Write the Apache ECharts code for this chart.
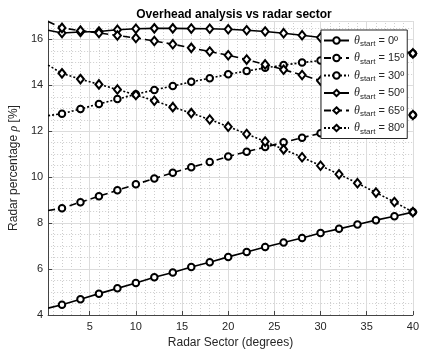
<!DOCTYPE html>
<html>
<head>
<meta charset="utf-8">
<script src="https://cdn.jsdelivr.net/npm/echarts@6/dist/echarts.min.js"></script>
<style>html,body{margin:0;padding:0;background:#fff}#c{width:422px;height:356px}</style>
</head>
<body>
<div id="c"></div>
<script>
// Sector values (degrees) where markers are drawn
const sectors = [2,4,6,8,10,12,14,16,18,20,22,24,26,28,30,32,34,36,38,40];
const startSector = 0.5;
const seriesNames = ['0º','15º','30º','50º','65º','80º'];
// value at left edge (sector 0.5), then values at each marker sector
const start0 = 4.30;
const vals0  = [4.45,4.69,4.93,5.16,5.39,5.64,5.85,6.09,6.30,6.53,6.74,6.96,7.16,7.35,7.57,7.75,7.94,8.13,8.30,8.48];
const start15 = 8.55;
const vals15 = [8.65,8.91,9.17,9.43,9.69,9.94,10.19,10.43,10.66,10.90,11.11,11.31,11.52,11.72,11.91,12.09,12.26,12.42,12.57,12.71];
const start30 = 12.68;
const vals30 = [12.76,12.97,13.19,13.40,13.61,13.80,13.97,14.15,14.31,14.48,14.62,14.76,14.88,14.99,15.08,15.16,15.23,15.29,15.34,15.39];
const start50 = 16.40;
const vals50 = [16.28,16.32,16.34,16.42,16.46,16.48,16.48,16.47,16.46,16.44,16.40,16.34,16.27,16.18,16.08,15.97,15.85,15.71,15.56,15.39];
const start65 = 16.78;
const vals65 = [16.50,16.38,16.28,16.17,16.06,15.93,15.79,15.63,15.47,15.31,15.12,14.91,14.68,14.45,14.20,13.93,13.65,13.36,13.04,12.71];
const start80 = 14.88;
const vals80 = [14.52,14.27,14.04,13.82,13.58,13.33,13.05,12.79,12.51,12.20,11.88,11.55,11.21,10.87,10.50,10.13,9.74,9.33,8.92,8.48];
const xTicks = [5,10,15,20,25,30,35,40];
const yTicks = [4,6,8,10,12,14,16];
const xMinor = [1,2,3,4,6,7,8,9,11,12,13,14,16,17,18,19,21,22,23,24,26,27,28,29,31,32,33,34,36,37,38,39];
const yMinor = [4.5,5,5.5,6.5,7,7.5,8.5,9,9.5,10.5,11,11.5,12.5,13,13.5,14.5,15,15.5,16.5];

const FONT = 'Liberation Sans';
const TXT = '#262626';

function buildData(s, vals){
  const d = [{value:[startSector, s], symbol:'none'}];
  sectors.forEach((x,i)=>d.push([x, vals[i]]));
  return d;
}
const starts = [start0,start15,start30,start50,start65,start80];
const allVals = [vals0,vals15,vals30,vals50,vals65,vals80];
const lineTypes = ['solid',[7,4],[2,2],'solid',[7,4],[2,2]];
const symbols = ['emptyCircle','emptyCircle','emptyCircle','emptyDiamond','emptyDiamond','emptyDiamond'];

const gridLines = [];
xMinor.forEach(v=>gridLines.push({xAxis:v, lineStyle:{color:'#cdcdcd', type:[1,2], width:1}}));
yMinor.forEach(v=>gridLines.push({yAxis:v, lineStyle:{color:'#cdcdcd', type:[1,2], width:1}}));
xTicks.forEach(v=>gridLines.push({xAxis:v, lineStyle:{color:'#dcdcdc', type:'solid', width:1}}));
yTicks.forEach(v=>gridLines.push({yAxis:v, lineStyle:{color:'#dcdcdc', type:'solid', width:1}}));
gridLines.push({yAxis:16.8, lineStyle:{color:'#dcdcdc', type:'solid', width:1}});

const series = [{
  type:'line', name:'grid', data:[], silent:true, z:0,
  markLine:{silent:true, z:0, symbol:'none', label:{show:false}, animation:false, data:gridLines}
}];
seriesNames.forEach((n,i)=>{
  series.push({
    type:'line', name:n, data:buildData(starts[i], allVals[i]),
    symbol:symbols[i], symbolSize: i<3 ? 6.5 : [7,8.5], showAllSymbol:true,
    lineStyle:{color:'#000', width:1.6, type:lineTypes[i]},
    itemStyle:{color:'#000', borderColor:'#000', borderWidth:1.3},
    emphasis:{disabled:true}, animation:false, z:2
  });
});

const chart = echarts.init(document.getElementById('c'), null, {renderer:'canvas'});
chart.setOption({
  backgroundColor:'#fff',
  animation:false,
  title:{text:'Overhead analysis vs radar sector', left:229, top:4, textAlign:'center',
    textStyle:{fontFamily:FONT, fontSize:12, fontWeight:'bold', color:'#000'}},
  grid:{left:43.5, right:6.3, top:21, bottom:41, containLabel:false},
  legend:{
    data:seriesNames, orient:'vertical', left:321, top:30, z:10,
    backgroundColor:'#fff', borderColor:'#262626', borderWidth:1,
    padding:[3,3,3,2], itemGap:2.5, itemWidth:25, itemHeight:8,
    formatter: n => '{t|θ}{s|start}{n| = ' + n + '}',
    textStyle:{fontFamily:FONT, fontSize:11, color:TXT,
      rich:{
        t:{fontFamily:'Liberation Serif', fontStyle:'italic', fontSize:12, color:TXT, lineHeight:15},
        s:{fontFamily:FONT, fontSize:8, color:TXT, padding:[7,0,0,0], lineHeight:15},
        n:{fontFamily:FONT, fontSize:11, color:TXT, lineHeight:15}
      }}
  },
  xAxis:{
    type:'value', min:0.5, max:40,
    name:'Radar Sector (degrees)', nameLocation:'middle', nameGap:20,
    nameTextStyle:{fontFamily:FONT, fontSize:12, color:TXT},
    axisLine:{show:true, lineStyle:{color:'#444', width:1}},
    axisTick:{show:true, inside:true, length:4, customValues:xTicks, lineStyle:{color:'#444'}},
    axisLabel:{customValues:xTicks, margin:6, fontFamily:FONT, fontSize:11, color:TXT},
    splitLine:{show:false}, minorTick:{show:false}, minorSplitLine:{show:false}
  },
  yAxis:{
    type:'value', min:4, max:16.8,
    name:'Radar percentage {i|ρ} [%]', nameLocation:'middle', nameGap:21,
    nameTextStyle:{fontFamily:FONT, fontSize:12, color:TXT,
      rich:{i:{fontFamily:'Liberation Serif', fontStyle:'italic', fontSize:12, color:TXT}}},
    axisLine:{show:true, lineStyle:{color:'#444', width:1}},
    axisTick:{show:true, inside:true, length:4, customValues:yTicks, lineStyle:{color:'#444'}},
    axisLabel:{customValues:yTicks, margin:5, fontFamily:FONT, fontSize:11, color:TXT},
    splitLine:{show:false}
  },
  series: series
});
</script>
</body>
</html>
